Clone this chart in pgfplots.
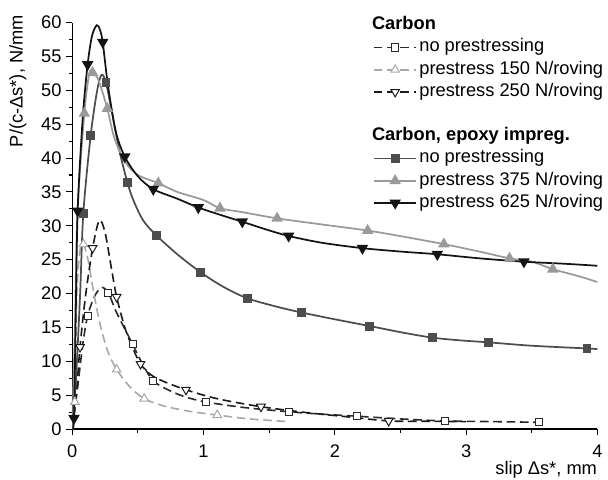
\documentclass[border=0pt]{standalone}
\usepackage{fontspec}
\setmainfont{Liberation Sans}
\usepackage{pgfplots}
\pgfplotsset{compat=1.18}

\definecolor{epoxyA}{HTML}{4D4D4D}
\definecolor{epoxyB}{HTML}{9A9A9A}
\definecolor{epoxyC}{HTML}{141414}
\definecolor{carbA}{HTML}{2A2A2A}
\definecolor{carbB}{HTML}{A8A8A8}
\definecolor{carbC}{HTML}{1A1A1A}

\newcommand{\lblfont}{\fontsize{13.7pt}{16pt}\selectfont}

\pgfplotsset{
  epA/.style={color=epoxyA, line width=1.3pt, mark=square*, mark size=2.7pt, mark options={solid, fill=epoxyA}},
  epB/.style={color=epoxyB, line width=1.3pt, mark=triangle*, mark size=3.7pt, mark options={solid, fill=epoxyB}},
  epC/.style={color=epoxyC, line width=1.3pt, mark=triangle*, mark size=3.7pt, mark options={solid, fill=epoxyC, rotate=180}},
  caA/.style={color=carbA, line width=1.2pt, dash pattern=on 6.5pt off 3.5pt, mark=square*, mark size=2.7pt, mark options={solid, fill=white, line width=0.75pt}},
  caB/.style={color=carbB, line width=1.2pt, dash pattern=on 6.5pt off 3.5pt, mark=triangle*, mark size=3.7pt, mark options={solid, fill=white, line width=0.75pt}},
  caC/.style={color=carbC, line width=1.2pt, dash pattern=on 6.5pt off 3.5pt, mark=triangle*, mark size=3.7pt, mark options={solid, fill=white, line width=0.75pt, rotate=180}},
}

\begin{document}
\begin{tikzpicture}
\begin{axis}[
  name=ax,
  scale only axis,
  width=393.9pt, height=304.9pt,
  xmin=0, xmax=4, ymin=0, ymax=60,
  axis lines*=left,
  axis line style={line width=0.9pt},
  xtick={0,1,2,3,4}, ytick={0,5,...,60},
  minor x tick num=1, minor y tick num=1,
  tick align=outside,
  major tick length=4.5pt, minor tick length=2.7pt,
  tick style={line width=0.8pt, black},
  every tick label/.append style={font=\lblfont},
  xticklabel style={yshift=-4pt},
  /pgf/number format/assume math mode=true,
  label style={font=\lblfont},
  xlabel={slip Δs*, mm},
  ylabel={P/(c-Δs*), N/mm},
  xlabel style={at={(axis description cs:1.008,-0.101)}, anchor=east},
  ylabel style={at={(axis description cs:-0.1034,0.856)}, anchor=center},
  legend cell align=left,
  legend image code/.code={\draw[mark repeat=2, mark phase=2, #1] plot coordinates {(0pt,0pt) (16pt,0pt) (32pt,0pt)};},
  legend style={draw=none, fill=none, at={(axis description cs:0.572,1.021)}, anchor=north west,
    font=\lblfont, row sep=0pt, inner sep=0pt,
    nodes={inner sep=1.5pt, text height=10pt, text depth=3.65pt}},
]

% ---- Carbon (dashed) ----
\addplot[caA, no markers, smooth, forget plot] coordinates {
(0,0) (0.04,6) (0.08,12.5) (0.117,16.7) (0.17,19.6) (0.224,20.9) (0.275,20.1) (0.33,17.5)
(0.4,14.8) (0.46,12.5) (0.53,9.8) (0.617,7.1) (0.75,5.6) (0.87,4.7) (1.016,4.0) (1.3,3.2)
(1.65,2.55) (1.9,2.2) (2.17,1.9) (2.5,1.5) (2.84,1.2) (3.2,1.1) (3.557,1.0)};
\addplot[caA, only marks, forget plot] coordinates {
(0.117,16.7) (0.275,20.1) (0.46,12.5) (0.617,7.1) (1.016,4.0) (1.65,2.55) (2.17,1.9) (2.84,1.2) (3.557,1.0)};

\addplot[caB, no markers, smooth, forget plot] coordinates {
(0,0) (0.02,4) (0.035,20) (0.06,26.5) (0.085,27.3) (0.12,25) (0.16,20.5) (0.21,15.6) (0.27,11.5)
(0.338,8.8) (0.44,6.2) (0.548,4.5) (0.7,3.4) (0.9,2.6) (1.104,2.07) (1.35,1.5) (1.65,1.1)};
\addplot[caB, only marks, forget plot] coordinates {
(0.02,4) (0.085,27.3) (0.338,8.8) (0.548,4.5) (1.104,2.07)};

\addplot[caC, no markers, smooth, forget plot] coordinates {
(0,0) (0.03,5) (0.059,12.1) (0.1,19.5) (0.155,26.7) (0.206,30.8) (0.25,29) (0.3,23.5) (0.338,19.5)
(0.4,15) (0.46,12) (0.52,9.6) (0.6,8) (0.7,7) (0.866,5.8) (1.1,4.5) (1.437,3.3) (1.8,2.4)
(2.1,1.8) (2.41,1.2) (2.7,1.15) (3.0,1.1)};
\addplot[caC, only marks, forget plot] coordinates {
(0.059,12.1) (0.155,26.7) (0.338,19.5) (0.52,9.6) (0.866,5.8) (1.437,3.3) (2.41,1.2)};

% ---- Carbon, epoxy impregnated (solid) ----
\addplot[epA, no markers, smooth, forget plot] coordinates {
(0,0) (0.03,8) (0.06,20) (0.084,31.8) (0.14,43.3) (0.19,50) (0.224,52.3) (0.257,51.1) (0.3,47)
(0.36,41) (0.42,36.4) (0.465,33.8) (0.54,30.8) (0.64,28.6) (0.8,25.8) (0.98,23.1) (1.15,21)
(1.333,19.3) (1.55,18.1) (1.747,17.2) (2.0,16.2) (2.267,15.2) (2.5,14.3) (2.74,13.5) (2.95,13.1)
(3.17,12.8) (3.5,12.3) (3.92,11.9) (4,11.8)};
\addplot[epA, only marks, forget plot] coordinates {
(0.084,31.8) (0.14,43.3) (0.257,51.1) (0.42,36.4) (0.64,28.6) (0.98,23.1) (1.333,19.3)
(1.747,17.2) (2.267,15.2) (2.74,13.5) (3.17,12.8) (3.92,11.9)};

\addplot[epB, no markers, smooth, forget plot] coordinates {
(0,0) (0.02,15) (0.04,32) (0.092,46.6) (0.13,52.5) (0.155,52.6) (0.2,51.5) (0.267,47.3) (0.32,43)
(0.4,39.5) (0.5,37.5) (0.655,36.3) (0.8,35) (1.0,33.8) (1.125,32.6) (1.3,32) (1.56,31.1)
(1.9,30.2) (2.25,29.3) (2.55,28.3) (2.83,27.3) (3.1,26.2) (3.33,25.2) (3.5,24.7) (3.66,23.6)
(3.85,22.6) (4,21.7)};
\addplot[epB, only marks, forget plot] coordinates {
(0.092,46.6) (0.155,52.6) (0.267,47.3) (0.655,36.3) (1.125,32.6) (1.56,31.1) (2.25,29.3)
(2.83,27.3) (3.33,25.2) (3.66,23.6)};

\addplot[epC, no markers, smooth, forget plot] coordinates {
(0,0) (0.013,1.6) (0.025,15) (0.041,32.2) (0.08,46) (0.117,53.8) (0.15,58) (0.186,59.6) (0.21,59)
(0.232,57.1) (0.27,51) (0.33,44) (0.40,40.2) (0.5,37.3) (0.617,35.4) (0.8,34) (0.96,32.7)
(1.13,31.6) (1.295,30.6) (1.47,29.5) (1.648,28.5) (1.9,27.5) (2.21,26.7) (2.5,26.2) (2.78,25.8)
(3.1,25.2) (3.44,24.7) (3.75,24.4) (4,24.1)};
\addplot[epC, only marks, forget plot] coordinates {
(0.013,1.6) (0.041,32.2) (0.117,53.8) (0.232,57.1) (0.40,40.2) (0.617,35.4) (0.96,32.7)
(1.295,30.6) (1.648,28.5) (2.21,26.7) (2.78,25.8) (3.44,24.7)};

% ---- legend ----
\addlegendimage{empty legend}\addlegendentry{\hspace*{-35.5pt}\textbf{Carbon}}
\addlegendimage{caA}\addlegendentry{no prestressing}
\addlegendimage{caB}\addlegendentry{prestress 150 N/roving}
\addlegendimage{caC}\addlegendentry{prestress 250 N/roving}
\addlegendimage{empty legend}\addlegendentry{}
\addlegendimage{empty legend}\addlegendentry{\hspace*{-35.5pt}\textbf{Carbon, epoxy impreg.}}
\addlegendimage{epA}\addlegendentry{no prestressing}
\addlegendimage{epB}\addlegendentry{prestress 375 N/roving}
\addlegendimage{epC}\addlegendentry{prestress 625 N/roving}
\end{axis}
\pgfresetboundingbox
\useasboundingbox ([xshift=-54.2pt,yshift=-37.5pt]ax.south west) rectangle ([xshift=7.9pt,yshift=16.9pt]ax.north east);
\end{tikzpicture}
\end{document}
